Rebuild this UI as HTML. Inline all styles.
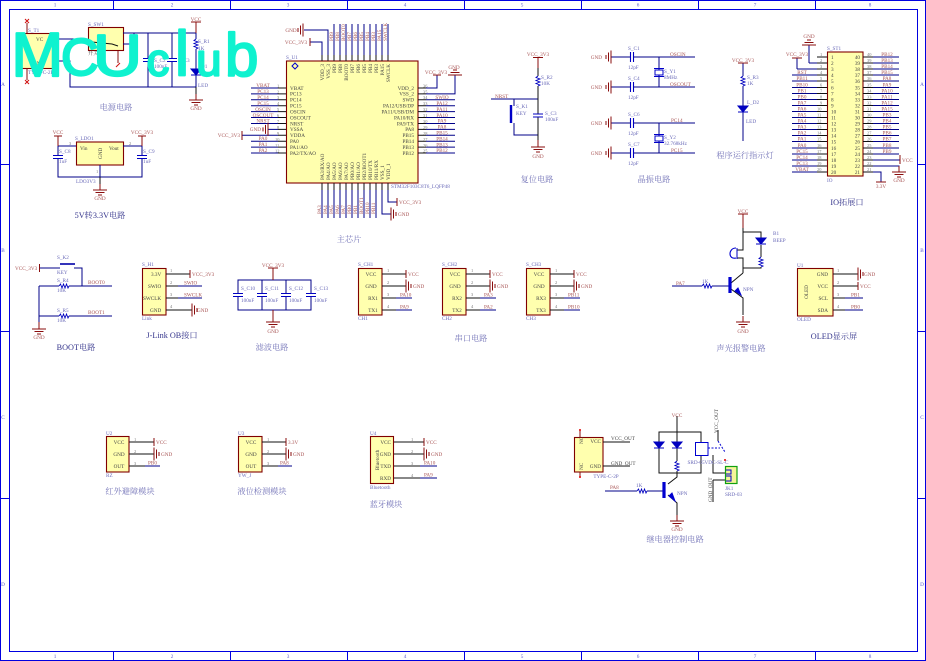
<!DOCTYPE html>
<html><head><meta charset="utf-8"><style>
html,body{margin:0;padding:0;background:#fff}
svg{display:block;width:926px;height:661px;filter:blur(.3px)}
text{font-family:"Liberation Serif","Noto Serif CJK SC",serif;font-size:5.2px}
.w{fill:none;stroke:#000088;stroke-width:1}
.k{fill:none;stroke:#111;stroke-width:1}
.r{fill:none;stroke:#8a0c0c;stroke-width:1}
.f{fill:none;stroke:#0000e0;stroke-width:1}
.bx{fill:#ffffae;stroke:#800000;stroke-width:1.1}
.l text,text.l{fill:#a85555}
.d text,text.d{fill:#6a6ab8}
.p text,text.p{fill:#444}
.e text,text.e{fill:#777;font-size:4.4px}
.m{text-anchor:middle}.n{text-anchor:end}
.t{font-size:8.2px;fill:#7474b8;text-anchor:middle}
.td{font-size:8.2px;fill:#35358c;text-anchor:middle}
.fr{fill:#5a5ad0;font-size:4.5px;text-anchor:middle}
.wm text{font-family:"Liberation Sans",sans-serif;fill:#0ff2cf;stroke:#0ff2cf;stroke-width:2.2;stroke-linejoin:round;stroke-linecap:round}
</style></head><body>
<svg xmlns="http://www.w3.org/2000/svg" width="926" height="661" viewBox="0 0 926 661">
<defs>
<g id="gd"><path class="r" d="M-7 0H7M-4.5 2.5H4.5M-2 5H2M0-6V0"/></g>
<g id="gu"><path class="r" d="M-7 0H7M-4.5-2.5H4.5M-2-5H2"/></g>
<g id="gr"><path class="r" d="M0-6.5V6.5M2.5-4.5V4.5M5-2V2"/></g>
<g id="gl"><path class="r" d="M0-6.5V6.5M-2.5-4.5V4.5M-5-2V2"/></g>
<g id="cv"><rect x="-6" y="-2" width="12" height="4" fill="#fff"/><path d="M-5-1.5H5M-5 1.5H5" stroke="#0000c0" fill="none" stroke-width="1.1"/></g>
<g id="ch"><rect x="-2" y="-6" width="4" height="12" fill="#fff"/><path d="M-1.5-5V5M1.5-5V5" stroke="#0000c0" fill="none" stroke-width="1.1"/></g>
<g id="rh"><rect x="-5" y="-2" width="10" height="4" fill="#fff"/><path d="M-5 0L-3.5-2-2 2-.5-2 1 2 2.5-2 4 2 5 0" stroke="#0000c0" fill="none" stroke-width=".9"/></g>
<g id="rv"><rect x="-2" y="-5" width="4" height="10" fill="#fff"/><path d="M0-5L-2-3.5 2-2-2-.5 2 1-2 2.5 2 4 0 5" stroke="#0000c0" fill="none" stroke-width=".9"/></g>
<g id="dd"><path d="M-5-3H5L0 3Z M-5 3H5" fill="#0000c0" stroke="#0000c0" stroke-width="1"/></g>
</defs>
<rect width="926" height="661" fill="#fff"/>

<!-- frame -->
<path class="f" d="M0 .5H925.5V660.5H.5V.5M9.5 9.5H917.5V651.5H9.5ZM113.5 0V9M230.5 0V9M347.5 0V9M464.5 0V9M581.5 0V9M698.5 0V9M815.5 0V9M113.5 652V661M230.5 652V661M347.5 652V661M464.5 652V661M581.5 652V661M698.5 652V661M815.5 652V661M0 164.5H9M0 331.5H9M0 498.5H9M918 164.5H926M918 331.5H926M918 498.5H926"/>
<g class="fr">
<text x="55" y="6.5">1</text><text x="172" y="6.5">2</text><text x="288" y="6.5">3</text><text x="405" y="6.5">4</text><text x="522" y="6.5">5</text><text x="638" y="6.5">6</text><text x="755" y="6.5">7</text><text x="870" y="6.5">8</text>
<text x="55" y="658">1</text><text x="172" y="658">2</text><text x="288" y="658">3</text><text x="405" y="658">4</text><text x="522" y="658">5</text><text x="638" y="658">6</text><text x="755" y="658">7</text><text x="870" y="658">8</text>
<text x="3" y="86">A</text><text x="3" y="252">B</text><text x="3" y="419">C</text><text x="3" y="586">D</text>
<text x="922" y="86">A</text><text x="922" y="252">B</text><text x="922" y="419">C</text><text x="922" y="586">D</text>
</g>

<!-- power -->
<rect class="bx" x="21.5" y="33.5" width="33" height="35"/>
<rect class="bx" x="88.5" y="27.5" width="35" height="23"/>
<path class="w" d="M55 39H88M55 61H70V87H196M123 33H196M123 44H134V33M148 33V87M172 33V87M196 33V87"/>
<path class="k" d="M88 39L92 42 112 44 118 46"/>
<path stroke="#d01010" stroke-width="1" d="M25 23L29 19M25 19L29 23M25 84L29 80M25 80L29 84M97 66L101 62M116 67L120 63"/>
<path class="r" d="M27 23V33M27 68V80M99 51V62M118 51V63M196 22V33"/>
<use href="#cv" x="148" y="60"/><use href="#cv" x="172" y="60"/>
<use href="#rv" x="196" y="44"/><use href="#dd" x="196" y="72"/>
<use href="#gd" x="196" y="100"/><path class="r" d="M191 22H201"/>
<path class="k" d="M196 87V94"/>
<g class="l"><text class="m" x="196" y="21">VCC</text><text class="m" x="196" y="110">GND</text></g>
<g class="d"><text x="28" y="32">S_T1</text><text x="88" y="26">S_SW1</text><text x="154" y="62">S_C2</text><text x="178" y="62">S_C3</text><text x="198" y="43">S_R1</text><text x="198" y="50">1K</text><text x="201" y="68">D1</text><text x="198" y="87">LED</text><text x="154" y="68">100nF</text><text x="178" y="68">1uF</text><text x="28" y="74">TYPE-C-2P</text></g>
<g class="p"><text x="36" y="41">VC</text><text x="33" y="65">GND</text><text x="88" y="55">开关</text></g>
<text class="td" style="fill:#7474b8" x="116" y="110">电源电路</text>

<!-- LDO -->
<rect class="bx" x="76.5" y="142" width="47" height="23"/>
<path class="w" d="M58 146H76M123 146H142M58 146V177H142V146M100 165V177"/>
<path class="r" d="M58 136V146M142 136V146M54 136H62M138 136H146"/>
<use href="#cv" x="58" y="157"/><use href="#cv" x="142" y="157"/>
<use href="#gd" x="100" y="190"/>
<path class="k" d="M100 177V184"/>
<g class="l"><text class="m" x="58" y="134">VCC</text><text class="m" x="142" y="134">VCC_3V3</text><text class="m" x="100" y="200">GND</text></g>
<g class="d"><text x="75" y="140">S_LDO1</text><text x="59" y="153">S_C8</text><text x="59" y="163">1uF</text><text x="143" y="153">S_C9</text><text x="143" y="163">1uF</text><text x="76" y="183">LDO3V3</text></g>
<g class="p"><text x="80" y="150">Vin</text><text x="109" y="150">Vout</text><text transform="translate(102 159) rotate(-90)">GND</text></g>
<g class="e"><text x="69" y="145">3</text><text x="129" y="145">2</text><text x="96" y="173">1</text></g>
<text class="td" x="100" y="218">5V转3.3V电路</text>

<!-- MCU -->
<rect class="bx" x="286.5" y="61" width="131.5" height="122"/>
<path d="M295 63L298 66 295 69 292 66Z" fill="none" stroke="#0000d0"/>
<path class="w" d="M251 88H278M251 93.9H278M251 99.8H278M251 105.7H278M251 111.6H278M251 117.5H278M251 123.5H278M268 129.4H278M242 135.3H278M251 141.2H278M251 147.1H278M251 153H278
M426 88H437V75M426 93.9H455V75M426 99.8H455M426 105.7H455M426 111.6H455M426 117.5H455M426 123.5H455M426 129.4H455M426 135.3H455M426 141.2H455M426 147.1H455M426 153H455
M322 55V42H310M328 55V30H304M334 55V24M340 55V24M346 55V24M352 55V24M358 55V24M364 55V24M370 55V24M376 55V24M382 55V24M388 55V24
M322 190V218M328 190V218M334 190V218M340 190V218M346 190V218M352 190V218M358 190V218M364 190V218M370 190V218M376 190V218M382 190V214H391M388 190V202H397"/>
<path class="k" d="M278 88H286M278 93.9H286M278 99.8H286M278 105.7H286M278 111.6H286M278 117.5H286M278 123.5H286M278 129.4H286M278 135.3H286M278 141.2H286M278 147.1H286M278 153H286M418 88H426M418 93.9H426M418 99.8H426M418 105.7H426M418 111.6H426M418 117.5H426M418 123.5H426M418 129.4H426M418 135.3H426M418 141.2H426M418 147.1H426M418 153H426
M322 55V61M328 55V61M334 55V61M340 55V61M346 55V61M352 55V61M358 55V61M364 55V61M370 55V61M376 55V61M382 55V61M388 55V61M322 183V190M328 183V190M334 183V190M340 183V190M346 183V190M352 183V190M358 183V190M364 183V190M370 183V190M376 183V190M382 183V190M388 183V190"/>
<path class="r" d="M242 131V140M310 38V46M433 75H441M397 198V206"/>
<use href="#gl" x="268" y="129.4"/><use href="#gl" x="303" y="30"/><use href="#gu" x="455" y="75"/><use href="#gr" x="391" y="214"/>
<g class="l">
<text class="m" x="263" y="87">VBAT</text><text class="m" x="263" y="93">PC13</text><text class="m" x="263" y="99">PC14</text><text class="m" x="263" y="105">PC15</text><text class="m" x="263" y="111">OSCIN</text><text class="m" x="263" y="117">OSCOUT</text><text class="m" x="263" y="122.5">NRST</text><text class="m" x="263" y="140">PA0</text><text class="m" x="263" y="146">PA1</text><text class="m" x="263" y="152">PA2</text>
<text class="n" x="261" y="131">GND</text><text class="n" x="240" y="137">VCC_3V3</text>
<text class="m" x="442" y="99">SWIO</text><text class="m" x="442" y="105">PA12</text><text class="m" x="442" y="111">PA11</text><text class="m" x="442" y="117">PA10</text><text class="m" x="442" y="122.5">PA9</text><text class="m" x="442" y="128.5">PA8</text><text class="m" x="442" y="134.5">PB15</text><text class="m" x="442" y="140.5">PB14</text><text class="m" x="442" y="146.5">PB13</text><text class="m" x="442" y="152">PB12</text>
<text class="m" x="436" y="74">VCC_3V3</text><text class="m" x="454" y="69">GND</text>
<text class="m" x="291" y="32">GND</text><text class="m" x="296" y="44">VCC_3V3</text>
<text x="399" y="204">VCC_3V3</text><text x="398" y="216">GND</text>
<g transform="translate(333 41) rotate(-90)"><text>PB9</text></g><g transform="translate(339 41) rotate(-90)"><text>PB8</text></g><g transform="translate(345 41) rotate(-90)"><text>BOOT0</text></g><g transform="translate(351 41) rotate(-90)"><text>PB7</text></g><g transform="translate(357 41) rotate(-90)"><text>PB6</text></g><g transform="translate(363 41) rotate(-90)"><text>PB5</text></g><g transform="translate(369 41) rotate(-90)"><text>PB4</text></g><g transform="translate(375 41) rotate(-90)"><text>PB3</text></g><g transform="translate(381 41) rotate(-90)"><text>PA15</text></g><g transform="translate(387 41) rotate(-90)"><text>SWCLK</text></g>
<g transform="translate(321 214) rotate(-90)"><text>PA3</text></g><g transform="translate(327 214) rotate(-90)"><text>PA4</text></g><g transform="translate(333 214) rotate(-90)"><text>PA5</text></g><g transform="translate(339 214) rotate(-90)"><text>PA6</text></g><g transform="translate(345 214) rotate(-90)"><text>PA7</text></g><g transform="translate(351 214) rotate(-90)"><text>PB0</text></g><g transform="translate(357 214) rotate(-90)"><text>PB1</text></g><g transform="translate(363 214) rotate(-90)"><text>BOOT1</text></g><g transform="translate(369 214) rotate(-90)"><text>PB10</text></g><g transform="translate(375 214) rotate(-90)"><text>PB11</text></g>
</g>
<g class="p">
<text x="290" y="89.8">VBAT</text><text x="290" y="95.7">PC13</text><text x="290" y="101.6">PC14</text><text x="290" y="107.5">PC15</text><text x="290" y="113.4">OSCIN</text><text x="290" y="119.3">OSCOUT</text><text x="290" y="125.3">NRST</text><text x="290" y="131.2">VSSA</text><text x="290" y="137.1">VDDA</text><text x="290" y="143">PA0</text><text x="290" y="148.9">PA1/AO</text><text x="290" y="154.8">PA2/TX/AO</text>
<text class="n" x="414" y="89.8">VDD_2</text><text class="n" x="414" y="95.7">VSS_2</text><text class="n" x="414" y="101.6">SWD</text><text class="n" x="414" y="107.5">PA12/USB/DP</text><text class="n" x="414" y="113.4">PA11/USB/DM</text><text class="n" x="414" y="119.3">PA10/RX</text><text class="n" x="414" y="125.3">PA9/TX</text><text class="n" x="414" y="131.2">PA8</text><text class="n" x="414" y="137.1">PB15</text><text class="n" x="414" y="143">PB14</text><text class="n" x="414" y="148.9">PB13</text><text class="n" x="414" y="154.8">PB12</text>
<g transform="translate(324 64) rotate(-90)"><text class="n">VDD_3</text></g><g transform="translate(330 64) rotate(-90)"><text class="n">VSS_3</text></g><g transform="translate(336 64) rotate(-90)"><text class="n">PB9</text></g><g transform="translate(342 64) rotate(-90)"><text class="n">PB8</text></g><g transform="translate(348 64) rotate(-90)"><text class="n">BOOT0</text></g><g transform="translate(354 64) rotate(-90)"><text class="n">PB7</text></g><g transform="translate(360 64) rotate(-90)"><text class="n">PB6</text></g><g transform="translate(366 64) rotate(-90)"><text class="n">PB5</text></g><g transform="translate(372 64) rotate(-90)"><text class="n">PB4</text></g><g transform="translate(378 64) rotate(-90)"><text class="n">PB3</text></g><g transform="translate(384 64) rotate(-90)"><text class="n">PA15</text></g><g transform="translate(390 64) rotate(-90)"><text class="n">SWCLK</text></g>
<g transform="translate(324 180) rotate(-90)"><text>PA3/RX/AO</text></g><g transform="translate(330 180) rotate(-90)"><text>PA4/AO</text></g><g transform="translate(336 180) rotate(-90)"><text>PA5/AO</text></g><g transform="translate(342 180) rotate(-90)"><text>PA6/AO</text></g><g transform="translate(348 180) rotate(-90)"><text>PA7/AO</text></g><g transform="translate(354 180) rotate(-90)"><text>PB0/AO</text></g><g transform="translate(360 180) rotate(-90)"><text>PB1/AO</text></g><g transform="translate(366 180) rotate(-90)"><text>PB2/BOOT1</text></g><g transform="translate(372 180) rotate(-90)"><text>PB10/TX</text></g><g transform="translate(378 180) rotate(-90)"><text>PB11/RX</text></g><g transform="translate(384 180) rotate(-90)"><text>VSS_1</text></g><g transform="translate(390 180) rotate(-90)"><text>VDD_1</text></g>
</g>
<g class="e">
<text x="277" y="87.5">1</text><text x="277" y="93.5">2</text><text x="277" y="99">3</text><text x="277" y="105">4</text><text x="277" y="111">5</text><text x="277" y="117">6</text><text x="277" y="123">7</text><text x="277" y="129">8</text><text x="277" y="135">9</text><text x="275" y="141">10</text><text x="275" y="147">11</text><text x="275" y="152.5">12</text>
<text x="423" y="87.5">36</text><text x="423" y="93.5">35</text><text x="423" y="99">34</text><text x="423" y="105">33</text><text x="423" y="111">32</text><text x="423" y="117">31</text><text x="423" y="123">30</text><text x="423" y="129">29</text><text x="423" y="135">28</text><text x="423" y="141">27</text><text x="423" y="147">26</text><text x="423" y="152.5">25</text>
</g>
<text class="d" x="391" y="188">STM32F103C8T6_LQFP48</text>
<text class="d" x="286" y="59">S_U1</text>
<text class="t" x="349" y="242">主芯片</text>

<!-- reset -->
<path class="w" d="M491 99H538M514 99V106M514 123V135H538"/>
<path class="r" d="M533 57.5H543M538 57.5V68M538 140V147"/>
<path class="k" d="M538 68V140"/>
<use href="#rv" x="538" y="81"/><use href="#cv" x="538" y="115.5"/><use href="#gd" x="538" y="147"/>
<path d="M511 105V123" stroke="#0000c8" stroke-width="2.4"/>
<g class="l"><text class="m" x="538" y="56">VCC_3V3</text><text class="m" x="538" y="158">GND</text><text x="495" y="98">NRST</text></g>
<g class="d"><text x="541" y="79">S_R2</text><text x="541" y="85">10K</text><text x="516" y="108">S_K1</text><text x="516" y="115">KEY</text><text x="545" y="115">S_C3</text><text x="545" y="121">100nF</text></g>
<text class="t" x="537" y="182">复位电路</text>

<!-- crystals -->
<path class="w" d="M611 57H695M611 87H695M611 123H695M611 153H695M659 57V87M659 123V153"/>
<use href="#gl" x="611" y="57"/><use href="#gl" x="611" y="87"/><use href="#gl" x="611" y="123"/><use href="#gl" x="611" y="153"/>
<use href="#ch" x="632" y="57"/><use href="#ch" x="632" y="87"/><use href="#ch" x="632" y="123"/><use href="#ch" x="632" y="153"/>
<rect x="655" y="70" width="8" height="5" fill="#fff" stroke="#0000c8"/><path d="M654 68.5H664M654 76.5H664" stroke="#0000c8"/>
<rect x="655" y="136" width="8" height="5" fill="#fff" stroke="#0000c8"/><path d="M654 134.5H664M654 142.5H664" stroke="#0000c8"/>
<g class="l"><text class="n" x="602" y="59">GND</text><text class="n" x="602" y="89">GND</text><text class="n" x="602" y="125">GND</text><text class="n" x="602" y="155">GND</text><text x="670" y="56">OSCIN</text><text x="670" y="86">OSCOUT</text><text x="671" y="122">PC14</text><text x="671" y="152">PC15</text></g>
<g class="d"><text x="628" y="50">S_C1</text><text x="628" y="69">12pF</text><text x="628" y="80">S_C4</text><text x="628" y="99">12pF</text><text x="628" y="116">S_C6</text><text x="628" y="135">12pF</text><text x="628" y="146">S_C7</text><text x="628" y="165">12pF</text><text x="664" y="73">S_Y1</text><text x="664" y="79">8MHz</text><text x="664" y="139">S_Y2</text><text x="664" y="145">32.768kHz</text></g>
<text class="t" x="654" y="182">晶振电路</text>

<!-- run led -->
<path class="w" d="M743 63V141"/><path class="r" d="M738 63H748"/>
<use href="#rv" x="743" y="81"/><use href="#dd" x="743" y="109"/>
<text class="l m" x="743" y="62">VCC_3V3</text>
<g class="d"><text x="747" y="79">S_R3</text><text x="747" y="85">1K</text><text x="747" y="104">L_D2</text><text x="746" y="123">LED</text></g>
<text class="t" x="745" y="158">程序运行指示灯</text>

<!-- IO -->
<rect class="bx" x="827.5" y="52" width="35.5" height="124"/>
<path class="w" d="M809 63V45M797 69V58M809 63H817M797 69H817M792 75H817M792 81H817M792 87.5H817M792 93.5H817M792 99.5H817M792 105.5H817M792 111.5H817M792 117.5H817M792 123.5H817M792 129.5H817M792 135.5H817M792 141.5H817M792 148H817M792 154H817M792 160H817M792 172H817M792 166H817
M873 57H899M873 63H899M873 69H899M873 75H899M873 81H899M873 87.5H899M873 93.5H899M873 99.5H899M873 105.5H899M873 111.5H899M873 117.5H899M873 123.5H899M873 129.5H899M873 135.5H899M873 141.5H899M873 148H899M873 154H899M873 160H900M873 166H899V172M873 172H881V182"/>
<path class="k" d="M817 57H827M817 63H827M817 69H827M817 75H827M817 81H827M817 87.5H827M817 93.5H827M817 99.5H827M817 105.5H827M817 111.5H827M817 117.5H827M817 123.5H827M817 129.5H827M817 135.5H827M817 141.5H827M817 148H827M817 154H827M817 160H827M817 166H827M817 172H827M863 57H873M863 63H873M863 69H873M863 75H873M863 81H873M863 87.5H873M863 93.5H873M863 99.5H873M863 105.5H873M863 111.5H873M863 117.5H873M863 123.5H873M863 129.5H873M863 135.5H873M863 141.5H873M863 148H873M863 154H873M863 160H873M863 166H873M863 172H873"/>
<path class="r" d="M792 58H802M900 155V164M876 182H886"/>
<use href="#gu" x="809" y="45"/><use href="#gd" x="899" y="172"/>
<text class="d" x="827" y="50">S_ST1</text><text class="d" x="827" y="182">IO</text>
<g class="l"><text class="m" x="809" y="38">GND</text><text class="m" x="797" y="56">VCC_3V3</text><text x="902" y="162">VCC</text><text class="m" x="899" y="182">GND</text><text class="m" x="881" y="188">3.3V</text>
<text class="m" x="802" y="74">RST</text><text class="m" x="802" y="80">PB11</text><text class="m" x="802" y="86.5">PB10</text><text class="m" x="802" y="92.5">PB1</text><text class="m" x="802" y="98.5">PB0</text><text class="m" x="802" y="104.5">PA7</text><text class="m" x="802" y="110.5">PA6</text><text class="m" x="802" y="116.5">PA5</text><text class="m" x="802" y="122.5">PA4</text><text class="m" x="802" y="128.5">PA3</text><text class="m" x="802" y="134.5">PA2</text><text class="m" x="802" y="140.5">PA1</text><text class="m" x="802" y="147">PA0</text><text class="m" x="802" y="153">PC15</text><text class="m" x="802" y="159">PC14</text><text class="m" x="802" y="165">PC13</text><text class="m" x="802" y="171">VBAT</text>
<text class="m" x="887" y="56">PB12</text><text class="m" x="887" y="62">PB13</text><text class="m" x="887" y="68">PB14</text><text class="m" x="887" y="74">PB15</text><text class="m" x="887" y="80">PA8</text><text class="m" x="887" y="86.5">PA9</text><text class="m" x="887" y="92.5">PA10</text><text class="m" x="887" y="98.5">PA11</text><text class="m" x="887" y="104.5">PA12</text><text class="m" x="887" y="110.5">PA15</text><text class="m" x="887" y="116.5">PB3</text><text class="m" x="887" y="122.5">PB4</text><text class="m" x="887" y="128.5">PB5</text><text class="m" x="887" y="134.5">PB6</text><text class="m" x="887" y="140.5">PB7</text><text class="m" x="887" y="147">PB8</text><text class="m" x="887" y="153">PB9</text></g>
<g class="p" style="font-size:4.6px">
<text x="831" y="59">1</text><text x="831" y="65">2</text><text x="831" y="71">3</text><text x="831" y="77">4</text><text x="831" y="83">5</text><text x="831" y="89.5">6</text><text x="831" y="95.5">7</text><text x="831" y="101.5">8</text><text x="831" y="107.5">9</text><text x="831" y="113.5">10</text><text x="831" y="119.5">11</text><text x="831" y="125.5">12</text><text x="831" y="131.5">13</text><text x="831" y="137.5">14</text><text x="831" y="143.5">15</text><text x="831" y="150">16</text><text x="831" y="156">17</text><text x="831" y="162">18</text><text x="831" y="168">19</text><text x="831" y="174">20</text>
<text class="n" x="860" y="59">40</text><text class="n" x="860" y="65">39</text><text class="n" x="860" y="71">38</text><text class="n" x="860" y="77">37</text><text class="n" x="860" y="83">36</text><text class="n" x="860" y="89.5">35</text><text class="n" x="860" y="95.5">34</text><text class="n" x="860" y="101.5">33</text><text class="n" x="860" y="107.5">32</text><text class="n" x="860" y="113.5">31</text><text class="n" x="860" y="119.5">30</text><text class="n" x="860" y="125.5">29</text><text class="n" x="860" y="131.5">28</text><text class="n" x="860" y="137.5">27</text><text class="n" x="860" y="143.5">26</text><text class="n" x="860" y="150">25</text><text class="n" x="860" y="156">24</text><text class="n" x="860" y="162">23</text><text class="n" x="860" y="168">22</text><text class="n" x="860" y="174">21</text>
</g>
<g class="e"><text x="820" y="56">1</text><text x="820" y="62">2</text><text x="820" y="68">3</text><text x="820" y="74">4</text><text x="820" y="80">5</text><text x="820" y="86.5">6</text><text x="820" y="92.5">7</text><text x="820" y="98.5">8</text><text x="820" y="104.5">9</text><text x="817" y="110.5">10</text><text x="817" y="116.5">11</text><text x="817" y="122.5">12</text><text x="817" y="128.5">13</text><text x="817" y="134.5">14</text><text x="817" y="140.5">15</text><text x="817" y="147">16</text><text x="817" y="153">17</text><text x="817" y="159">18</text><text x="817" y="165">19</text><text x="817" y="171">20</text>
<text x="867" y="56">40</text><text x="867" y="62">39</text><text x="867" y="68">38</text><text x="867" y="74">37</text><text x="867" y="80">36</text><text x="867" y="86.5">35</text><text x="867" y="92.5">34</text><text x="867" y="98.5">33</text><text x="867" y="104.5">32</text><text x="867" y="110.5">31</text><text x="867" y="116.5">30</text><text x="867" y="122.5">29</text><text x="867" y="128.5">28</text><text x="867" y="134.5">27</text><text x="867" y="140.5">26</text><text x="867" y="147">25</text><text x="867" y="153">24</text><text x="867" y="159">23</text><text x="867" y="165">22</text><text x="867" y="171">21</text></g>
<text class="td" x="847" y="205">IO拓展口</text>

<!-- boot -->
<path class="w" d="M40 268H60M74 268H82V286M39 286H112M39 286V322M39 316H112"/>
<path class="r" d="M39.500 264V272M39 322V328"/>
<path d="M60 264H75" stroke="#0000a8" stroke-width="1.6"/>
<use href="#rh" x="64" y="286"/><use href="#rh" x="64" y="316"/><use href="#gd" x="39" y="329"/>
<g class="l"><text x="15" y="270">VCC_3V3</text><text class="m" x="39" y="339">GND</text><text x="88" y="284">BOOT0</text><text x="88" y="314">BOOT1</text></g>
<g class="d"><text x="57" y="259">S_K2</text><text x="57" y="274">KEY</text><text x="57" y="282">S_R4</text><text x="57" y="292">10K</text><text x="57" y="312">S_R5</text><text x="57" y="322">10K</text></g>
<text class="td" x="76" y="350">BOOT电路</text>

<!-- jlink -->
<rect class="bx" x="142.500" y="268.500" width="23.500" height="46.500"/>
<path class="k" d="M166 274H190M166 286H178M166 298H178M166 310H192"/>
<path class="w" d="M178 286H202M178 298H202"/>
<path class="r" d="M190 270V278"/>
<use href="#gr" x="192" y="310"/>
<g class="l"><text x="192" y="276">VCC_3V3</text><text x="184" y="284.500">SWIO</text><text x="184" y="296.500">SWCLK</text><text x="197" y="312">GND</text></g>
<g class="p"><text x="151" y="276">3.3V</text><text x="148" y="288">SWIO</text><text x="143" y="300">SWCLK</text><text x="150" y="312">GND</text></g>
<g class="e"><text x="170" y="272">1</text><text x="170" y="284">2</text><text x="170" y="296">3</text><text x="170" y="308">4</text></g>
<text class="d" x="142" y="266">S_H1</text><text class="d" x="142" y="320">Link</text>
<text class="td" x="172" y="338">J-Link OB接口</text>

<!-- filter -->
<path class="w" d="M238 280H311V310H238ZM262 280V310M286 280V310"/>
<path class="r" d="M268 268H278M273 268V280M273 310V322"/>
<use href="#cv" x="238" y="295"/><use href="#cv" x="262" y="295"/><use href="#cv" x="286" y="295"/><use href="#cv" x="311" y="295"/>
<use href="#gd" x="273" y="322"/>
<g class="l"><text class="m" x="273" y="267">VCC_3V3</text><text class="m" x="273" y="333">GND</text></g>
<g class="d"><text x="241" y="290">S_C10</text><text x="241" y="302">100nF</text><text x="265" y="290">S_C11</text><text x="265" y="302">100nF</text><text x="289" y="290">S_C12</text><text x="289" y="302">100nF</text><text x="314" y="290">S_C13</text><text x="314" y="302">100nF</text></g>
<text class="t" x="272" y="350">滤波电路</text>

<!-- serial -->
<g id="s1">
<rect class="bx" x="358.500" y="268.500" width="23.500" height="46.500"/>
<path class="k" d="M382 274H406M382 286H406M382 298H396M382 310H396"/>
<path class="w" d="M396 298H412M396 310H412"/>
<path class="r" d="M406 270V278"/>
<use href="#gr" x="406" y="286"/>
<g class="l"><text x="408" y="276">VCC</text><text x="413" y="288">GND</text></g>
<g class="e"><text x="387" y="272">1</text><text x="387" y="284">2</text><text x="387" y="296">3</text><text x="387" y="308">4</text></g>
<g class="p"><text class="m" x="371" y="276">VCC</text><text class="m" x="371" y="288">GND</text></g>
</g>
<use href="#s1" x="84"/><use href="#s1" x="168"/>
<g class="p"><text class="m" x="373" y="300">RX1</text><text class="m" x="373" y="312">TX1</text><text class="m" x="457" y="300">RX2</text><text class="m" x="457" y="312">TX2</text><text class="m" x="541" y="300">RX3</text><text class="m" x="541" y="312">TX3</text></g>
<g class="l"><text x="400" y="296.500">PA10</text><text x="400" y="308.500">PA9</text><text x="484" y="296.500">PA3</text><text x="484" y="308.500">PA2</text><text x="568" y="296.500">PB11</text><text x="568" y="308.500">PB10</text></g>
<g class="d"><text x="358" y="266">S_CH1</text><text x="358" y="320">CH1</text><text x="442" y="266">S_CH2</text><text x="442" y="320">CH2</text><text x="526" y="266">S_CH3</text><text x="526" y="320">CH3</text></g>
<text class="t" x="471" y="341">串口电路</text>

<!-- buzzer -->
<path class="r" d="M743 214V228M738 214H748"/>
<path class="k" d="M743 228V250H737M737 258H743V273M743 232H761V240M761 245V268H743M731 283L743 273M731 289L743 298V315"/>
<path class="w" d="M672 286H730"/>
<use href="#dd" x="761" y="241"/><use href="#rv" x="761" y="262"/><use href="#rh" x="707" y="286"/>
<path d="M736 248C728 248 728 260 736 258" fill="none" stroke="#0000d0" stroke-width="1.1"/><path d="M737 248V259" stroke="#0000c0"/>
<path d="M730 277V293" stroke="#0000d0" stroke-width="3.200"/>
<path d="M735 291L741 295 738 288Z" fill="#0000d0" stroke="#0000d0"/>
<use href="#gd" x="743" y="322"/>
<g class="l"><text class="m" x="743" y="213">VCC</text><text class="m" x="743" y="333">GND</text><text x="676" y="285">PA7</text></g>
<g class="d"><text x="773" y="235">B1</text><text x="773" y="242">BEEP</text><text x="702" y="283">1K</text><text x="743" y="291">NPN</text></g>
<text class="t" x="741" y="351">声光报警电路</text>

<!-- oled -->
<rect class="bx" x="797.500" y="268.500" width="35.500" height="47.500"/>
<path class="k" d="M833 274H858M833 286H858M833 298H845M833 310H845"/>
<path class="w" d="M845 298H863M845 310H863"/>
<path class="r" d="M858 282V290"/>
<use href="#gr" x="858" y="274"/>
<g class="l"><text x="864" y="276">GND</text><text x="860" y="288">VCC</text><text x="851" y="296.500">PB1</text><text x="851" y="308.500">PB0</text></g>
<g class="p"><text class="n" x="828" y="276">GND</text><text class="n" x="828" y="288">VCC</text><text class="n" x="828" y="300">SCL</text><text class="n" x="828" y="312">SDA</text><text class="m" transform="translate(808 292) rotate(-90)">OLED</text></g>
<g class="e"><text x="837" y="272">1</text><text x="837" y="284">2</text><text x="837" y="296">3</text><text x="837" y="308">4</text></g>
<text class="d" x="797" y="267">U1</text><text class="d" x="797" y="321">OLED</text>
<text class="td" x="834" y="339">OLED显示屏</text>

<!-- modules -->
<rect class="bx" x="106.500" y="436.500" width="22.500" height="35.500"/>
<path class="k" d="M129 442H154M129 454H154M129 466H145"/>
<path class="w" d="M145 466H160"/><path class="r" d="M154 438V446"/><use href="#gr" x="154" y="454"/>
<g class="l"><text x="156" y="444">VCC</text><text x="161" y="456">GND</text><text x="148" y="464.500">PB0</text></g>
<g class="p"><text class="m" x="119" y="444">VCC</text><text class="m" x="119" y="456">GND</text><text class="m" x="119" y="468">OUT</text></g>
<g class="e"><text x="134" y="441">1</text><text x="134" y="453">2</text><text x="134" y="465">3</text></g>
<text class="d" x="106" y="435">U2</text><text class="d" x="106" y="477">RZ</text>
<text class="t" x="130" y="494">红外避障模块</text>

<rect class="bx" x="238.500" y="436.500" width="23.500" height="35.500"/>
<path class="k" d="M262 442H286M262 454H286M262 466H278"/>
<path class="w" d="M278 466H292"/><path class="r" d="M286 438V446"/><use href="#gr" x="286" y="454"/>
<g class="l"><text x="288" y="444">3.3V</text><text x="293" y="456">GND</text><text x="280" y="464.500">PA8</text></g>
<g class="p"><text class="m" x="251" y="444">VCC</text><text class="m" x="251" y="456">GND</text><text class="m" x="251" y="468">OUT</text></g>
<g class="e"><text x="267" y="441">1</text><text x="267" y="453">2</text><text x="267" y="465">3</text></g>
<text class="d" x="238" y="435">U3</text><text class="d" x="238" y="477">YW_J</text>
<text class="t" x="262" y="494">液位检测模块</text>

<rect class="bx" x="370.500" y="436.500" width="23" height="47"/>
<path class="k" d="M394 442H424M394 454H424M394 466H420M394 478H420"/>
<path class="w" d="M420 466H437M420 478H437"/><path class="r" d="M424 438V446"/><use href="#gr" x="424" y="454"/>
<g class="l"><text x="426" y="444">VCC</text><text x="431" y="456">GND</text><text x="424" y="464.500">PA10</text><text x="424" y="476.500">PA9</text></g>
<g class="p"><text class="n" x="391" y="444">VCC</text><text class="n" x="391" y="456">GND</text><text class="n" x="391" y="468">TXD</text><text class="n" x="391" y="480">RXD</text><text class="m" transform="translate(379 460) rotate(-90)">Bluetooth</text></g>
<g class="e"><text x="411" y="441">1</text><text x="411" y="453">2</text><text x="411" y="465">3</text><text x="411" y="477">4</text></g>
<text class="d" x="370" y="435">U4</text><text class="d" x="370" y="489">Bluetooth</text>
<text class="t" x="386" y="507">蓝牙模块</text>

<!-- relay -->
<rect class="bx" x="574.500" y="437.500" width="28.500" height="34.500"/>
<path class="k" d="M603 442H630M603 466H630M677 416V473M659 432H701V473H659ZM695 448H701M713 455V473H725M713 480V502M713 480H725M718 430V441M677 473V477L668 484M668 495L677 503V520"/>
<path class="w" d="M605 491H664"/>
<path d="M718 441L725 452M708 448H720" fill="none" stroke="#0000d0" stroke-dasharray="2 1.500"/>
<rect x="695.500" y="442.500" width="12.500" height="13" fill="#fff" stroke="#0000d0"/>
<path d="M580 430V437M580 472V477" class="r"/>
<circle cx="580" cy="430" r="1" fill="#e00000"/><circle cx="580" cy="477" r="1" fill="#e00000"/><circle cx="725" cy="460" r="1" fill="#e00000"/>
<use href="#dd" x="659" y="445"/><use href="#dd" x="677" y="445"/><use href="#rv" x="677" y="466"/><use href="#rh" x="642" y="491"/>
<path d="M664 482V498" stroke="#0000d0" stroke-width="3.200"/>
<path d="M669 496L675 501 672 493Z" fill="#0000d0" stroke="#0000d0"/>
<rect x="725.500" y="466.500" width="11.500" height="17" fill="#f5f59a" stroke="#10a010" stroke-width="1.200"/>
<path d="M726 470H731V474H726M726 476H731V481H726" fill="none" stroke="#0000c8"/>
<use href="#gd" x="677" y="521"/>
<g class="l"><text class="m" x="677" y="417">VCC</text><text class="m" x="677" y="531">GND</text><text x="610" y="489">PA8</text></g>
<g class="p"><text class="n" x="601" y="443">VCC</text><text class="n" x="601" y="468">GND</text><text x="611" y="440">VCC_OUT</text><text x="611" y="465">GND_OUT</text><text transform="translate(583 444) rotate(-90)">NC</text><text transform="translate(583 470) rotate(-90)">NC</text><text transform="translate(718 433) rotate(-90)">VCC_OUT</text><text transform="translate(712 502) rotate(-90)">GND_OUT</text></g>
<g class="d"><text class="m" x="606" y="478">TYPE-C-2P</text><text class="m" x="708" y="464">SRD-05VDC-SL-C</text><text x="725" y="490">JK1</text><text x="725" y="496">SRD-03</text><text x="636" y="487">1K</text><text x="677" y="495">NPN</text></g>
<text class="t" x="675" y="542">继电器控制电路</text>

<!-- watermark: one word, letters individually placed to follow the hand-drawn spacing -->
<g class="wm">
<text x="11.5" y="76" style="font-size:62px">M</text>
<text x="61" y="75" style="font-size:52px">C</text>
<text x="93" y="75.500" textLength="49" lengthAdjust="spacingAndGlyphs" style="font-size:58px">U</text>
<text x="146.700" y="75.500" style="font-size:45px">c</text>
<text x="182" y="75.500" text-anchor="middle" style="font-size:63px">l</text>
<text x="196.400" y="75.500" style="font-size:45px">u</text>
<text x="225" y="75.500" style="font-size:60px">b</text>
</g>
</svg>
</body></html>
